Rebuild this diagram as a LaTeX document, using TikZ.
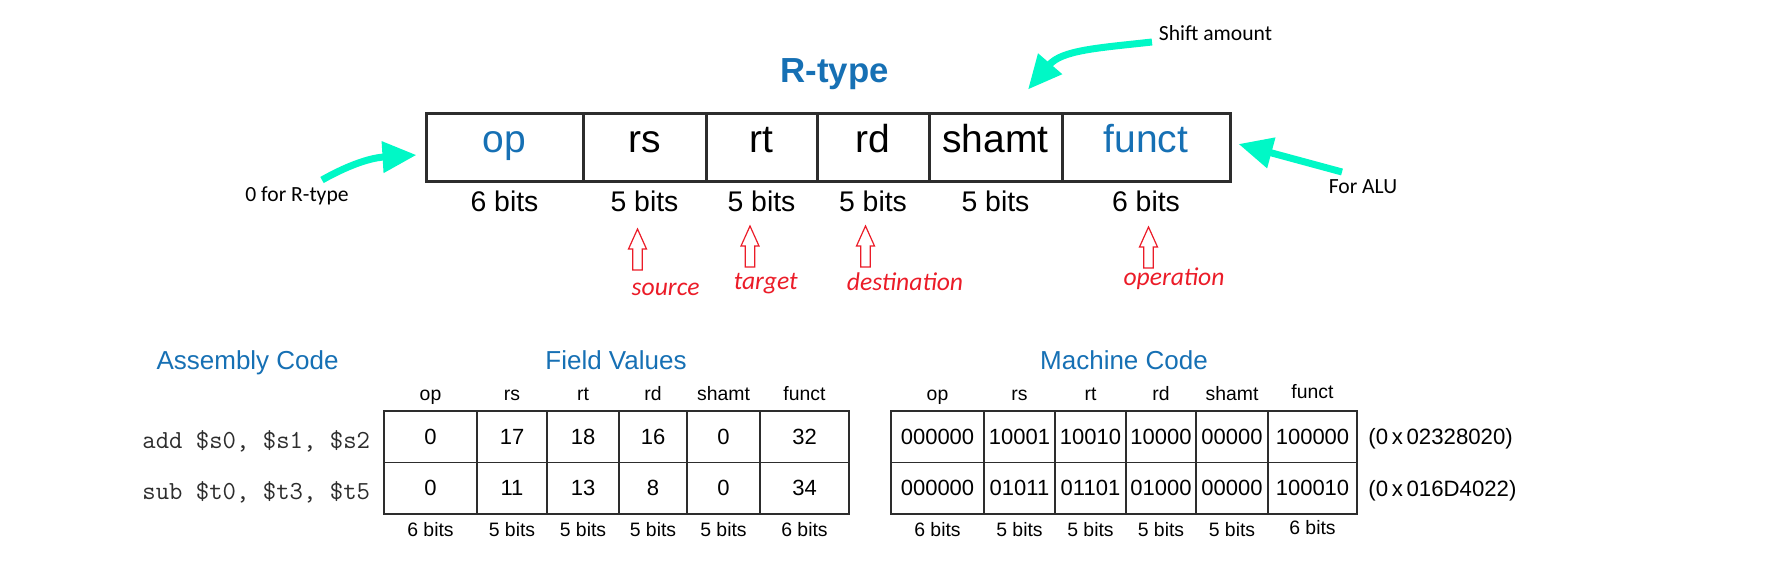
\documentclass[tikz,border=0pt]{standalone}
\usepackage{fontspec}
\setmainfont{Liberation Sans}
\newfontfamily\calfont{Carlito}
\usetikzlibrary{arrows.meta}
\definecolor{hblue}{RGB}{22,112,180}
\definecolor{acyan}{RGB}{0,248,198}
\definecolor{ared}{RGB}{235,28,40}
\definecolor{lgray}{RGB}{45,45,45}
\tikzset{
  rtitle/.style={font=\bfseries\fontsize{17.4}{19}\selectfont, text=hblue, inner sep=0pt},
  topcell/.style={draw=lgray, line width=1.5pt, minimum height=34pt, inner sep=0pt,
    text height=0.75em, text depth=0.22em, font=\fontsize{19.5}{21}\selectfont},
  topbits/.style={font=\fontsize{14.2}{16}\selectfont, inner sep=0pt, anchor=base},
  callout/.style={font=\calfont\fontsize{10.8}{12}\selectfont, inner sep=0pt, anchor=base},
  cyanarrow/.style={draw=acyan, line width=3.5pt, -{Triangle[length=17pt,width=15pt]}},
  redlabel/.style={font=\calfont\itshape\fontsize{12.8}{14}\selectfont, text=ared, inner sep=0pt, anchor=base},
  hollowup/.pic={\draw[draw=ared, line width=0.6pt] (0,0) -- (9,20) -- (4.8,20) -- (4.8,41) -- (-4.8,41) -- (-4.8,20) -- (-9,20) -- cycle;},
  sectitle/.style={font=\fontsize{13}{15}\selectfont, text=hblue, inner sep=0pt, anchor=base},
  tcell/.style={draw=lgray, line width=0.9pt, minimum height=25.75pt, inner sep=0pt, font=\fontsize{11}{13}\selectfont},
  hdr/.style={font=\fontsize{9.7}{11}\selectfont, inner sep=0pt, anchor=base},
  asm/.style={font=\ttfamily\fontsize{13}{15}\selectfont, text=lgray, inner sep=0pt, anchor=base west},
  hex/.style={font=\fontsize{11.1}{13}\selectfont, inner sep=0pt, anchor=base west},
}
\begin{document}
\begin{tikzpicture}[x=0.5pt,y=-0.5pt]
\useasboundingbox (0,0) rectangle (1772,562);

% ---------- R-type format ----------
\node[rtitle, anchor=base] (rtype) at (834.5,82.7) {R-type};

\foreach \n/\x/\w/\t/\c/\b in {op/504.5/78.5/op/hblue/6 bits, rs/644.5/61.5/rs/black/5 bits,
    rt/761.5/55.5/rt/black/5 bits, rd/873/56/rd/black/5 bits,
    shamt/995.5/66.5/shamt/black/5 bits, funct/1146/84/funct/hblue/6 bits}{
  \node[topcell, minimum width=\w pt, text=\c] (\n) at (\x,147) {\t};
  \node[topbits] (b\n) at (\x,211.5) {\b};
}

% callouts
\node[callout] (shiftlbl) at (1215.5,40) {Shift amount};
\node[callout] (zerolbl) at (297,201) {0 for R-type};
\node[callout] (alulbl) at (1363,193) {For ALU};

\coordinate (shifttail) at (1152,42);
\coordinate (zerotail) at (322,180);
\coordinate (alutail) at (1342,172);

\draw[cyanarrow] (shifttail) .. controls (1098,48) and (1062,50) .. ([shift={(32.5,-22)}]shamt.north);
\draw[cyanarrow] (zerotail) .. controls (345,167) and (368,158) .. ([shift={(-8,8)}]op.west);
\draw[cyanarrow] (alutail) -- ([shift={(7,-3)}]funct.east);

% red hollow arrows and labels
\pic (ua1) at (637.5,229) {hollowup};
\pic (ua2) at (750,226) {hollowup};
\pic (ua3) at (865.5,226) {hollowup};
\pic (ua4) at (1148.5,227) {hollowup};

\node[redlabel] (src) at (665.6,295) {source};
\node[redlabel] (tgt) at (765.8,289.5) {target};
\node[redlabel] (dst) at (905,290.5) {destination};
\node[redlabel] (opn) at (1174,285) {operation};

% ---------- Lower tables ----------
\node[sectitle] (asmtitle) at (247.6,369.3) {Assembly Code};
\node[sectitle] (fvtitle) at (616,369.3) {Field Values};
\node[sectitle] (mctitle) at (1124,369.3) {Machine Code};

\node[asm] (asm1) at (142,448) {add \$s0, \$s1, \$s2};
\node[asm] (asm2) at (142,499) {sub \$t0, \$t3, \$t5};

\foreach \i/\x/\w/\hd/\ra/\rb/\bt in {
  1/430.5/46.5/op/0/0/6 bits,
  2/512/35/rs/17/11/5 bits,
  3/583/36/rt/18/13/5 bits,
  4/653/34/rd/16/8/5 bits,
  5/723.5/36.5/shamt/0/0/5 bits,
  6/804.5/44.5/funct/32/34/6 bits}{
  \node[tcell, minimum width=\w pt] (fa\i) at (\x,436.75) {\ra};
  \node[tcell, minimum width=\w pt] (fb\i) at (\x,488.25) {\rb};
  \node[hdr] (fh\i) at (\x,400) {\hd};
  \node[hdr] (fbit\i) at (\x,536) {\bt};
}

\foreach \i/\x/\w/\hd/\ra/\rb/\bt/\dy in {
  1/937.5/46.5/op/000000/000000/6 bits/0,
  2/1019.5/35.5/rs/10001/01011/5 bits/0,
  3/1090.5/35.5/rt/10010/01101/5 bits/0,
  4/1161/35/rd/10000/01000/5 bits/0,
  5/1232/36/shamt/00000/00000/5 bits/0,
  6/1312.5/44.5/funct/100000/100010/6 bits/-2}{
  \node[tcell, minimum width=\w pt] (ma\i) at (\x,436.75) {\ra};
  \node[tcell, minimum width=\w pt] (mb\i) at (\x,488.25) {\rb};
  \node[hdr] (mh\i) at (\x,400+\dy) {\hd};
  \node[hdr] (mbit\i) at (\x,536+\dy) {\bt};
}

\node[hex] (hex1) at (1368,444) {(0\,x\,02328020)};
\node[hex] (hex2) at (1368,496) {(0\,x\,016D4022)};
\end{tikzpicture}
\end{document}
